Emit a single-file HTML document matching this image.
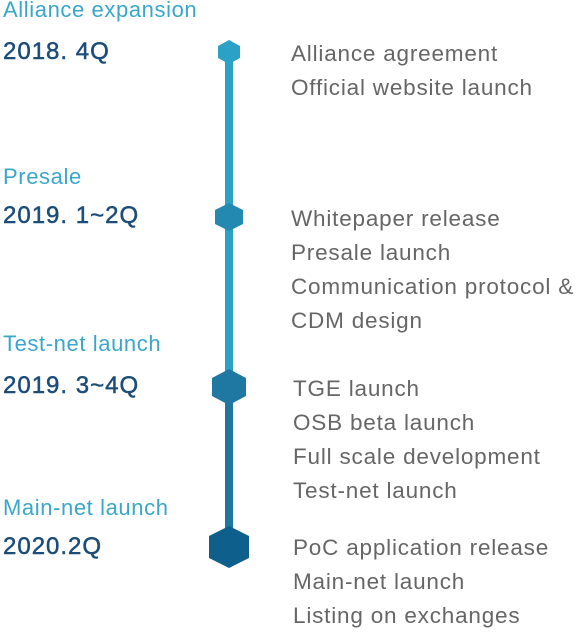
<!DOCTYPE html>
<html><head><style>
body{margin:0;width:580px;height:630px;background:#fff;position:relative;font-family:"Liberation Sans",sans-serif;overflow:hidden}
.t{position:absolute;left:3px;font-size:22px;color:#39a7cb;letter-spacing:0.6px}
.d{position:absolute;left:3px;font-size:24px;color:#1c4d78;letter-spacing:1px;-webkit-text-stroke:0.5px #1c4d78}
.r{position:absolute;left:291px;font-size:22.5px;color:#666;line-height:34px;letter-spacing:0.8px}
</style></head><body>
<svg width="580" height="630" style="position:absolute;left:0;top:0">
<rect x="225" y="52" width="8" height="335" fill="#2aa1c5"/>
<rect x="225" y="387" width="8" height="160" fill="#1f77a0"/>
<polygon points="229,40 240,46 240,58 229,64 218,58 218,46" fill="#2aa1c5"/>
<polygon points="229,203 243,210 243,224 229,231 215,224 215,210" fill="#2489b0"/>
<polygon points="229,369 246,378 246,396 229,405 212,396 212,378" fill="#1f78a2"/>
<polygon points="229,526 249,536 249,558 229,568 209,558 209,536" fill="#0e5f8c"/>
</svg>
<div class="t" style="top:-3px">Alliance expansion</div>
<div class="d" style="top:38px">2018. 4Q</div>
<div class="r" style="top:37px">Alliance agreement<br>Official website launch</div>
<div class="t" style="top:164px">Presale</div>
<div class="d" style="top:202px">2019. 1~2Q</div>
<div class="r" style="top:202px">Whitepaper release<br>Presale launch<br>Communication protocol &amp;<br>CDM design</div>
<div class="t" style="top:331px">Test-net launch</div>
<div class="d" style="top:372px">2019. 3~4Q</div>
<div class="r" style="top:372px;left:293px">TGE launch<br>OSB beta launch<br>Full scale development<br>Test-net launch</div>
<div class="t" style="top:495px">Main-net launch</div>
<div class="d" style="top:533px">2020.2Q</div>
<div class="r" style="top:531px;left:293px">PoC application release<br>Main-net launch<br>Listing on exchanges</div>
</body></html>
